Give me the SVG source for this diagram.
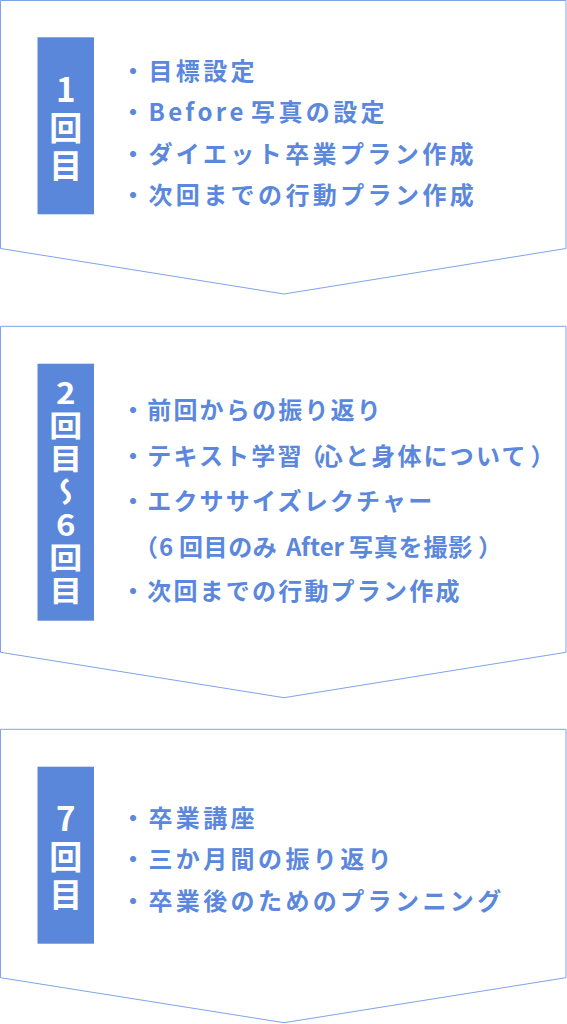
<svg xmlns="http://www.w3.org/2000/svg" width="567" height="1024" viewBox="0 0 567 1024">
<style>
.box{fill:#ffffff;stroke:#7fa3ea;stroke-width:1}
.lab{fill:#5b87db}
.lt{font-family:"Noto Sans CJK JP","Noto Sans",sans-serif;font-weight:700;font-size:33px;fill:#ffffff;writing-mode:vertical-rl;text-orientation:upright}
.bt{font-family:"Noto Sans CJK JP","Noto Sans",sans-serif;font-weight:700;font-size:24px;fill:#5b88dc;letter-spacing:3.4px}
.bt2{letter-spacing:2.2px}
</style>
<rect width="567" height="1024" fill="#ffffff"/>
<g id="step1">
<polygon class="box" points="0.5,0.5 566,0.5 566,248.5 284,294 0.5,248.5"/>
<rect class="lab" x="37.5" y="37.3" width="56.5" height="177"/>
<text class="lt" x="65.7" y="73" letter-spacing="5">1回目</text>
<text class="bt" x="121" y="79.5">・目標設定</text>
<text class="bt" y="121.3"><tspan x="121">・Before</tspan><tspan x="251">写真の設定</tspan></text>
<text class="bt" x="121" y="162.5">・ダイエット卒業プラン作成</text>
<text class="bt" x="121" y="204.2">・次回までの行動プラン作成</text>
</g>
<g id="step2">
<polygon class="box" points="0.5,326.3 566,326.3 566,652.3 284,697.7 0.5,652.3"/>
<rect class="lab" x="37.5" y="363.7" width="56.5" height="257"/>
<text class="lt" transform="scale(1,0.88)" x="65.7" y="430.5" letter-spacing="4.5">2回目〜6回目</text>
<text class="bt bt2" x="121" y="418.5">・前回からの振り返り</text>
<text class="bt bt2" x="121" y="465" dx="0 0 0 0 0 0 0 -4.4 -6.7 0 0 0 0 0 0 0 2.9">・テキスト学習（心と身体について）</text>
<text class="bt bt2" x="121" y="510">・エクササイズレクチャー</text>
<text class="bt bt2" y="555.5"><tspan x="134">（</tspan><tspan x="159">6</tspan><tspan x="179" letter-spacing="0.6">回目のみ</tspan><tspan x="286" letter-spacing="0">After</tspan><tspan x="349" letter-spacing="0.8">写真を撮影</tspan><tspan x="478">）</tspan></text>
<text class="bt bt2" x="121" y="600">・次回までの行動プラン作成</text>
</g>
<g id="step3">
<polygon class="box" points="0.5,729.3 566,729.3 566,977.7 284,1022.7 0.5,977.7"/>
<rect class="lab" x="37.5" y="766.7" width="56.5" height="177"/>
<text class="lt" x="65.7" y="801.5" letter-spacing="5">7回目</text>
<text class="bt" x="121" y="826.5">・卒業講座</text>
<text class="bt" x="121" y="867.5">・三か月間の振り返り</text>
<text class="bt" x="121" y="909.5">・卒業後のためのプランニング</text>
</g>
</svg>
